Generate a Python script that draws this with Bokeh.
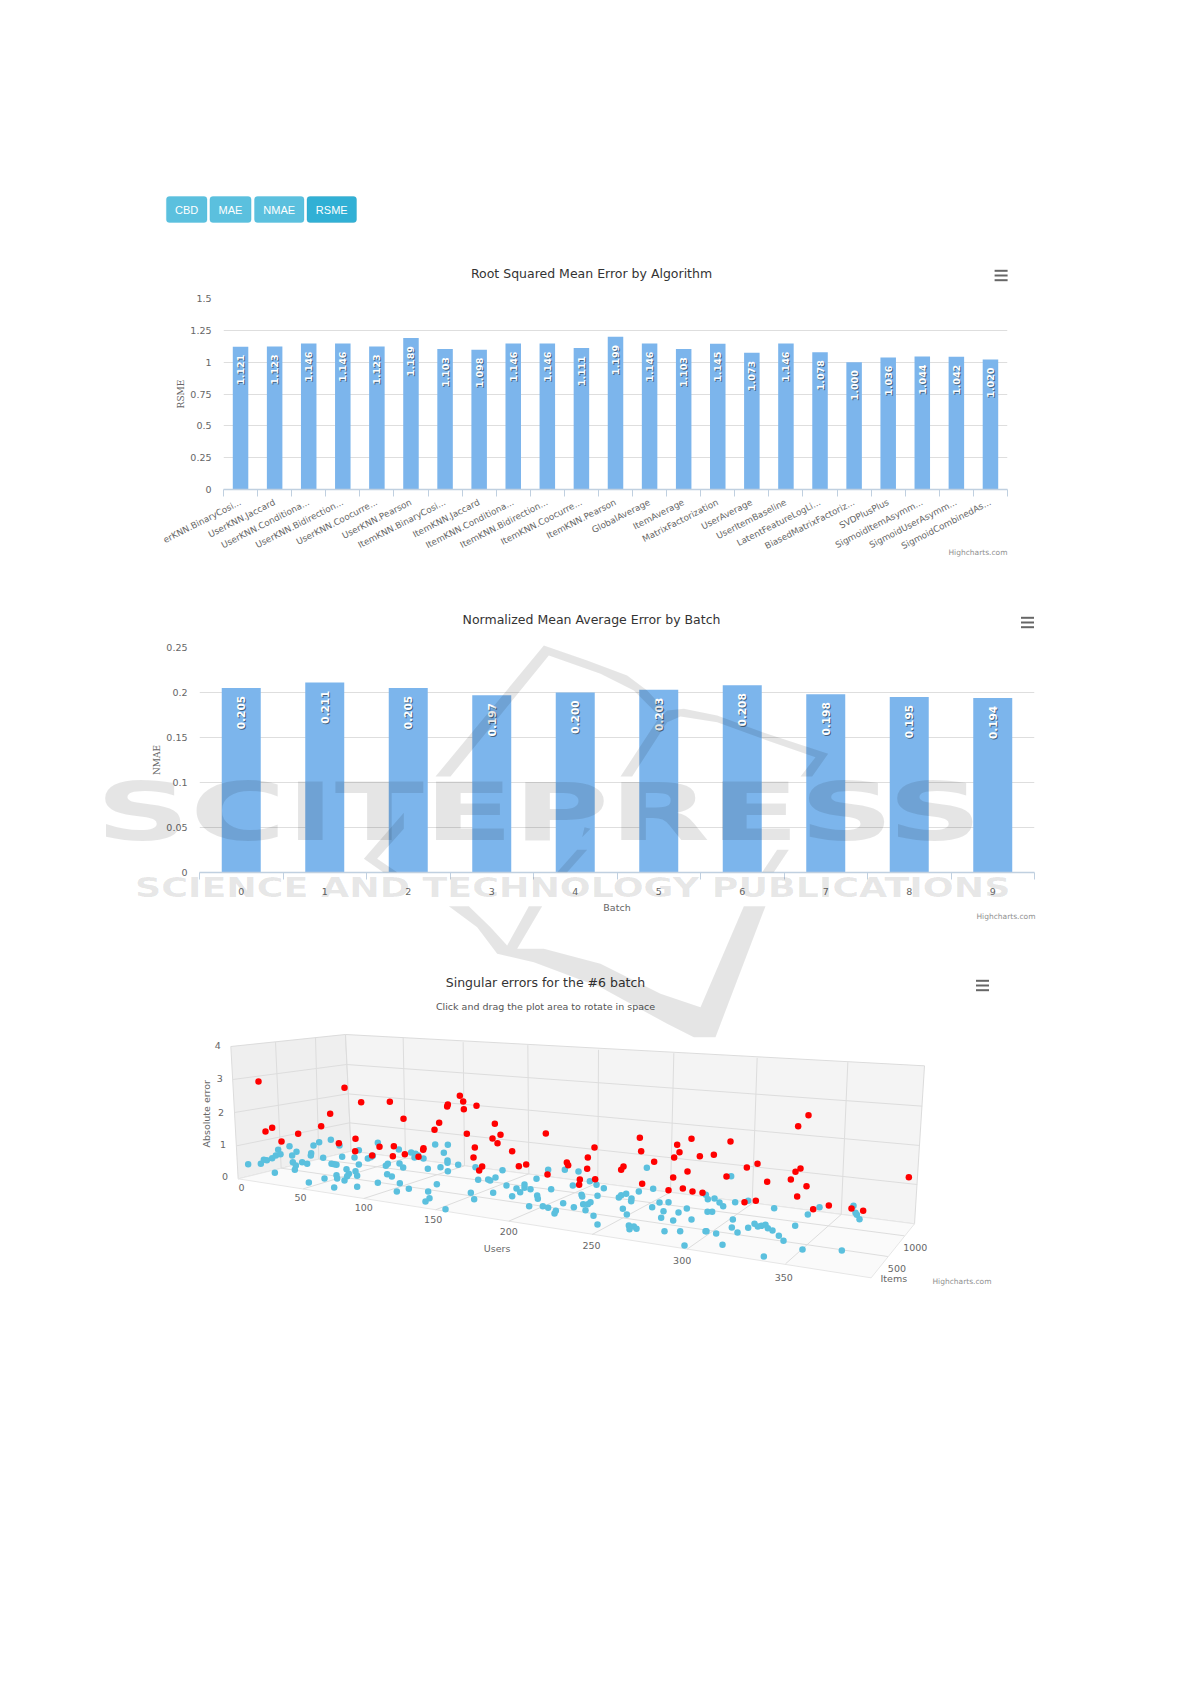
import math
from bokeh.plotting import figure
from bokeh.layouts import column
from bokeh.models import Range1d, FixedTicker, BoxAnnotation
from bokeh.core.properties import value
from bokeh.embed import file_html
from bokeh.resources import INLINE

# ---------- data ----------
algorithms = ["erKNN.BinaryCosi...", "UserKNN.Jaccard", "UserKNN.Conditiona...", "UserKNN.Bidirection...",
              "UserKNN.Coocurre...", "UserKNN.Pearson", "ItemKNN.BinaryCosi...", "ItemKNN.Jaccard",
              "ItemKNN.Conditiona...", "ItemKNN.Bidirection...", "ItemKNN.Coocurre...", "ItemKNN.Pearson",
              "GlobalAverage", "ItemAverage", "MatrixFactorization", "UserAverage", "UserItemBaseline",
              "LatentFeatureLogLi...", "BiasedMatrixFactoriz...", "SVDPlusPlus", "SigmoidItemAsymm...",
              "SigmoidUserAsymm...", "SigmoidCombinedAs..."]
rsme = [1.121, 1.123, 1.146, 1.146, 1.123, 1.189, 1.103, 1.098, 1.146, 1.146, 1.111, 1.199, 1.146, 1.103,
        1.145, 1.073, 1.146, 1.078, 1.000, 1.036, 1.044, 1.042, 1.020]
batches = ["0", "1", "2", "3", "4", "5", "6", "7", "8", "9"]
nmae = [0.205, 0.211, 0.205, 0.197, 0.200, 0.203, 0.208, 0.198, 0.195, 0.194]
rsme_ticks = [0, 0.25, 0.5, 0.75, 1, 1.25, 1.5]
rsme_tick_labels = ["0", "0.25", "0.5", "0.75", "1", "1.25", "1.5"]
nmae_ticks = [0, 0.05, 0.1, 0.15, 0.2, 0.25]
nmae_tick_labels = ["0", "0.05", "0.1", "0.15", "0.2", "0.25"]
buttons = ["CBD", "MAE", "NMAE", "RSME"]

# singular errors as seen on the projected 3D view (horizontal, vertical screen position)
red_u = [204,462,512,598,808,818,772,770,820,858,639,419,392,245,225,323,273,746,732,913,930,829,906,921,1066,853,965,849,
         445,495,494,567,610,607,643,545,699,698,684,875,866,985,1007,1129,1133,1192,1212,1190,1071,1168,1166,1214,
         1348,1352,1292,1299,1391,1355,1460,1467,1451,1503,1528,1570,1620,1491,1448,1434,1477,1506,1536,1608,1669,1701,1730,1662,1696,
         1854,1823,1830,1815,1801,1848,1820,1868,1915,1983,2018,2155]
red_v = [363,382,425,424,406,423,432,438,446,436,475,460,497,502,513,520,543,487,508,490,523,520,534,548,519,561,572,591,
         548,535,572,559,557,587,581,585,563,568,589,618,630,617,612,606,614,591,561,625,642,657,673,656,
         532,572,628,618,604,670,553,575,591,535,587,583,543,633,651,689,684,693,697,648,621,610,664,725,721,
         464,497,624,634,657,677,708,746,735,744,751,650]
blue_u = [173,211,220,229,245,256,263,270,253,297,305,318,307,316,313,335,350,361,362,369,386,421,447,398,423,431,438,455,492,505,505,532,541,547,562,
          625,662,675,672,683,699,734,772,760,771,771,803,750,772,712,638,627,592,586,590,604,468,475,495,500,470,462,438,440,402,355,431,500,562,628,619,655,713,739,717,705,765,
          841,851,863,855,893,899,915,936,908,948,965,978,989,1002,1002,1020,1016,1038,1040,1042,1057,1073,1082,1073,1096,1092,1118,1123,1147,1150,1164,1173,1175,1178,1192,1200,1185,1198,1218,1221,1209,1221,
          1240,1285,1292,1307,1323,1322,1345,1297,1309,1369,1388,1407,1434,1385,1419,1412,1448,1464,1489,1503,1422,1469,1482,1315,1317,1330,1338,1545,1548,1577,1596,1551,1565,1546,1552,1572,1587,1598,1634,1673,1622,1627,1624,1641,1673,1692,1702,1713,1725,1732,1746,1765,1779,1814,1836,1954,1720,1751,1852,1887,2007,1989,1995,1999]
blue_v = [611,610,598,599,593,585,568,581,637,557,585,574,605,615,628,605,610,585,578,555,545,538,555,592,610,611,613,589,591,569,612,594,590,586,547,
          567,576,580,591,585,594,552,553,577,600,607,613,620,632,625,621,609,610,616,641,648,626,640,632,646,647,660,644,654,654,666,681,679,667,668,693,685,693,671,713,723,746,
          697,716,658,620,657,660,651,629,697,675,707,684,695,672,682,686,737,655,705,715,737,742,686,628,751,759,728,628,675,740,633,703,708,731,731,725,749,662,673,706,766,792,
          683,711,704,700,714,722,693,745,762,622,685,726,725,740,752,772,780,756,744,777,812,812,855,795,806,798,805,812,812,819,853,754,754,703,716,714,726,737,725,721,647,777,801,816,802,790,798,796,793,803,810,826,841,796,867,870,888,743,762,740,776,736,757,763,767]

users_ticks = ["0", "50", "100", "150", "200", "250", "300", "350"]
users_tick_u = [153, 330, 520, 728, 955, 1203, 1475, 1780]
users_tick_v = [682, 710, 742, 778, 814, 855, 900, 950]
error_ticks = ["0", "1", "2", "3", "4"]
error_tick_v = [648, 553, 455, 355, 255]
error_tick_u = [113, 107, 101, 97, 91]
items_ticks = ["500", "1000"]
items_tick_u = [2092, 2138]
items_tick_v = [925, 862]

PAGE_W, PAGE_H = 1185, 1680
BLUE = "#7cb5ec"
GRID = "#dedede"
AX = "#c0d0e0"
TICK = "#666666"
SANS = "DejaVu Sans"

def bar_chart(y_name, values, labels, ticks, tick_labels, ymax, height, left, top, fw, fh, bar_w, label_px, label_off):
    n = len(values)
    idx = list(range(n))
    p = figure(width=PAGE_W, height=height, output_backend="svg", toolbar_location=None, frame_align=False,
               x_range=Range1d(-0.5, n - 0.5), y_range=Range1d(0, ymax),
               min_border_left=left, min_border_top=top, min_border_right=PAGE_W - left - fw,
               min_border_bottom=height - top - fh)
    p.outline_line_color = None
    p.xgrid.visible = False
    p.ygrid.grid_line_color = GRID
    p.ygrid.ticker = FixedTicker(ticks=ticks)
    p.yaxis.ticker = FixedTicker(ticks=ticks)
    p.yaxis.major_label_overrides = dict(zip(ticks, tick_labels))
    p.yaxis.axis_line_color = None
    p.yaxis.major_tick_line_color = None
    p.yaxis.minor_tick_line_color = None
    p.yaxis.major_label_text_font = SANS
    p.yaxis.major_label_text_font_size = "9.5px"
    p.yaxis.major_label_text_color = TICK
    p.yaxis.major_label_standoff = 6
    p.yaxis.axis_label = y_name
    p.yaxis.axis_label_text_font = "DejaVu Serif"
    p.yaxis.axis_label_text_font_style = "normal"
    p.yaxis.axis_label_text_font_size = "9px"
    p.yaxis.axis_label_text_color = TICK
    p.yaxis.axis_label_standoff = 1
    p.xaxis.ticker = FixedTicker(ticks=idx, minor_ticks=[i - 0.5 for i in range(n + 1)])
    p.xaxis.major_label_overrides = dict(zip(idx, labels))
    p.xaxis.axis_line_color = AX
    p.xaxis.axis_line_width = 1.5
    p.xaxis.major_tick_line_color = None
    p.xaxis.minor_tick_line_color = AX
    p.xaxis.minor_tick_out = 7
    p.xaxis.minor_tick_in = 0
    p.xaxis.major_label_text_font = SANS
    p.xaxis.major_label_text_font_size = "9.5px"
    p.xaxis.major_label_text_color = TICK
    p.vbar(x=idx, top=values, width=bar_w, bottom=0, fill_color=BLUE, line_color=None)
    txt = ["%.3f" % v for v in values]
    p.text(x=idx, y=values, text=txt, angle=math.pi / 2, text_align="right", text_baseline="middle",
           y_offset=label_off + 1, x_offset=1, text_color="#33475b", text_alpha=0.75,
           text_font=value(SANS), text_font_style="bold", text_font_size="%gpx" % label_px)
    p.text(x=idx, y=values, text=txt, angle=math.pi / 2, text_align="right", text_baseline="middle",
           y_offset=label_off, text_color="#ffffff",
           text_font=value(SANS), text_font_style="bold", text_font_size="%gpx" % label_px)
    return p

# ---------- chart 1 ----------
p1 = bar_chart("RSME", rsme, algorithms, rsme_ticks, rsme_tick_labels, 1.5, 570, 223, 298, 784, 191, 0.455, 9.5, 8)
p1.xaxis.major_label_orientation = math.radians(27)
p1.xaxis.major_label_standoff = 5
p1.xaxis.major_label_text_font_size = "8.8px"

# ---------- chart 2 ----------
p2 = bar_chart("NMAE", nmae, batches, nmae_ticks, nmae_tick_labels, 0.25, 370, 199, 77, 835, 225, 0.467, 10.5, 8)
p2.xaxis.major_label_standoff = 8
p2.xaxis.axis_label = "Batch"
p2.xaxis.axis_label_text_font = SANS
p2.xaxis.axis_label_text_font_style = "normal"
p2.xaxis.axis_label_text_font_size = "9.5px"
p2.xaxis.axis_label_text_color = TICK
p2.xaxis.axis_label_standoff = 4

# ---------- chart 3 : projected 3D scatter ----------
p3 = figure(width=PAGE_W, height=PAGE_H - 940, output_backend="svg", toolbar_location=None, frame_align=False,
            x_range=Range1d(-570, 2985), y_range=Range1d(2160, -60), min_border=0)
p3.axis.visible = False
p3.grid.visible = False
p3.outline_line_color = None
p3.patch([121, 465, 482, 143], [258, 222, 572, 655], fill_color="#efefef", line_color="#dcdcdc")
p3.patch([465, 2202, 2172, 482], [222, 316, 790, 572], fill_color="#f4f4f4", line_color="#dcdcdc")
p3.patch([143, 482, 2172, 2042], [655, 572, 790, 952], fill_color="#fafafa", line_color="#e6e6e6")
x0 = [127, 132, 138, 468, 472, 477, 255, 375, 638, 818, 1012, 1224, 1450, 1700, 1972,
      338, 520, 735, 955, 1205, 1490, 1785, 272, 385]
y0 = [357, 456, 556, 312, 400, 487, 245, 232, 232, 245, 254, 268, 278, 292, 305,
      685, 714, 748, 782, 822, 866, 910, 623, 596]
x1 = [468, 472, 477, 2195, 2188, 2180, 272, 385, 645, 822, 1015, 1222, 1440, 1685, 1952,
      645, 822, 1015, 1222, 1440, 1685, 1952, 2092, 2142]
y1 = [312, 400, 487, 437, 555, 672, 623, 596, 593, 616, 640, 667, 695, 729, 762,
      593, 616, 640, 667, 695, 729, 762, 888, 826]
p3.segment(x0, y0, x1, y1, line_color="#dddddd", line_width=1)
p3.scatter(blue_u, blue_v, size=6.5, fill_color="#5bc0de", line_color=None)
p3.scatter(red_u, red_v, size=6.5, fill_color="#ff0000", line_color=None)
def t3(u, v, s, size="9.5px", color=TICK, align="center", angle=0.0):
    p3.text(x=u, y=v, text=s, text_font=value(SANS), text_font_size=size, text_color=color,
            text_align=align, text_baseline="middle", angle=angle)
t3(users_tick_u, users_tick_v, users_ticks)
t3(error_tick_u, error_tick_v, error_ticks, align="right")
t3(items_tick_u, items_tick_v, items_ticks, align="left")
t3([920], [865], ["Users"])
t3([2110], [953], ["Items"])
t3([47], [460], ["Absolute error"], angle=math.pi / 2)

# ---------- page-level overlay : titles, buttons, menus, credits, watermark shapes ----------
ov_style = {"position": "absolute", "left": "0px", "top": "0px", "pointer-events": "none"}
ov = figure(width=PAGE_W, height=PAGE_H, output_backend="svg", toolbar_location=None, frame_align=False,
            x_range=Range1d(0, PAGE_W), y_range=Range1d(PAGE_H, 0), min_border=0,
            background_fill_alpha=0, border_fill_alpha=0, styles=ov_style)
ov.axis.visible = False
ov.grid.visible = False
ov.outline_line_color = None

btn_l = [165.9, 209.4, 254.0, 306.5]
btn_r = [206.5, 250.6, 303.5, 356.0]
for i, name in enumerate(buttons):
    active = name == "RSME"
    ov.add_layout(BoxAnnotation(left=btn_l[i], right=btn_r[i], top=196, bottom=222, border_radius=3, level="underlay",
                                fill_color="#31b0d5" if active else "#5bc0de", fill_alpha=1,
                                line_color="#269abc" if active else "#46b8da", line_width=1))
ov.text(x=[(a + b) / 2 for a, b in zip(btn_l, btn_r)], y=[209] * 4, text=buttons, text_color="#ffffff",
        text_font=value("Liberation Sans"), text_font_size="11px", text_align="center", text_baseline="middle")
ov.text(x=[591, 591, 545], y=[273, 619, 982],
        text=["Root Squared Mean Error by Algorithm", "Normalized Mean Average Error by Batch", "Singular errors for the #6 batch"],
        text_color="#333333", text_font=value(SANS), text_font_size="12.5px", text_align="center", text_baseline="middle")
ov.text(x=[545], y=[1006], text=["Click and drag the plot area to rotate in space"], text_color="#555555",
        text_font=value(SANS), text_font_size="9.5px", text_align="center", text_baseline="middle")
ov.text(x=[1007, 1035, 991], y=[552, 916, 1281], text=["Highcharts.com"] * 3, text_color="#909090",
        text_font=value(SANS), text_font_size="7.5px", text_align="right", text_baseline="middle")
for cx, cy in [(1000.6, 275), (1027, 622), (982, 985)]:
    ov.segment([cx - 6.5] * 3, [cy - 4.7, cy, cy + 4.7], [cx + 6.5] * 3, [cy - 4.7, cy, cy + 4.7],
               line_color="#666666", line_width=2)

def zp(points):
    return [400 + a / 3 for a, b in points], [640 + b / 3 for a, b in points]
shapes = [
    [(105,408),(430,15),(560,60),(680,105),(740,150),(795,210),(765,215),(700,150),(600,100),(445,45),(150,408)],
    [(660,408),(770,240),(800,210),(850,205),(950,225),(1100,280),(1283,340),(1235,408),(1200,408),(1245,350),(1100,300),(950,245),(840,228),(800,245),(695,408)],
    [(145,797),(205,797),(270,860),(320,915),(385,797),(425,797),(350,925),(430,925),(600,970),(780,1060),(900,1100),(1030,797),(1095,797),(945,1190),(880,1190),(800,1150),(600,1040),(400,965),(290,940),(230,860)],
    [(470,695),(530,628),(560,628),(500,695)],
    [(1085,695),(1130,628),(1165,628),(1120,695)],
    [(545,590),(570,565),(552,560)],
    [(-110,655),(10,517),(10,565),(-70,655),(-10,695),(-52,695)],
]
for s in shapes:
    xs, ys = zp(s)
    ov.patch(xs, ys, fill_color="#000000", fill_alpha=0.1, line_color=None)

def wordmark(text, screen_left, y, font_px, scale):
    w = int(PAGE_W / scale) + 1
    st = dict(ov_style)
    st["transform"] = "scaleX(%g)" % scale
    st["transform-origin"] = "0 0"
    f = figure(width=w, height=PAGE_H, output_backend="svg", toolbar_location=None, frame_align=False,
               x_range=Range1d(0, w), y_range=Range1d(PAGE_H, 0), min_border=0,
               background_fill_alpha=0, border_fill_alpha=0, styles=st)
    f.axis.visible = False
    f.grid.visible = False
    f.outline_line_color = None
    f.text(x=[screen_left / scale], y=[y], text=[text], text_color="#000000", text_alpha=0.1,
           text_font=value(SANS), text_font_style="bold", text_font_size="%gpx" % font_px,
           text_align="left", text_baseline="middle")
    return f

wm1 = wordmark("SCITEPRESS", 58, 812, 80, 1.636)
wm2 = wordmark("SCIENCE AND TECHNOLOGY PUBLICATIONS", 96, 888, 26, 1.4)

root = column(p1, p2, p3, ov, wm1, wm2, spacing=0, width=PAGE_W)
open("out.html", "w").write(file_html(root, INLINE))
